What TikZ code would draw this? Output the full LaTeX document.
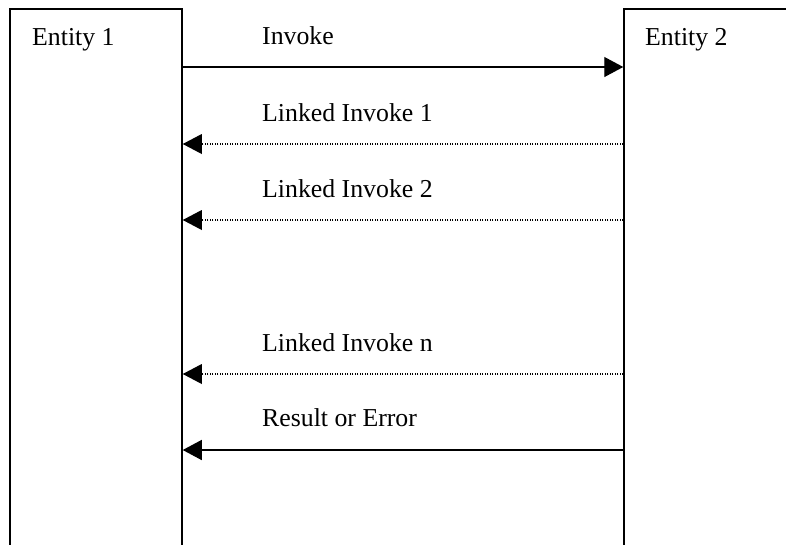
\documentclass[tikz,border=0pt]{standalone}
\usepackage{fontspec}
\setmainfont{Liberation Serif}
\usetikzlibrary{arrows.meta}
\begin{document}
\begin{tikzpicture}[x=1pt,y=-1pt,
  lbl/.style={anchor=base west,inner sep=0pt,font=\fontsize{25.8}{30}\selectfont},
  box/.style={line width=1.5pt},
  msg/.style={line width=1.3pt,-{Triangle[length=19pt,width=20pt]}},
  dmsg/.style={line width=1.2pt,dash pattern=on 1.2pt off 1.3pt,-{Triangle[length=19pt,width=20pt,line width=0pt]}}]
\useasboundingbox (0,0) rectangle (786,544);
\begin{scope}
\clip (0,0) rectangle (786,544);
\draw[box] (10,550) -- (10,9) -- (182,9) -- (182,550);
\draw[box] (624,550) -- (624,9) -- (790,9);
\end{scope}
\node[lbl] (e1) at (32,45) {Entity 1};
\node[lbl] (e2) at (645,45) {Entity 2};
\node[lbl] (t1) at (262,44) {Invoke};
\node[lbl] (t2) at (262,121) {Linked Invoke 1};
\node[lbl] (t3) at (262,197) {Linked Invoke 2};
\node[lbl] (t4) at (262,351.5) {Linked Invoke n};
\node[lbl] (t5) at (262,426.5) {Result or Error};
\coordinate (a1) at (182.75,67);  \coordinate (b1) at (623.25,67);
\coordinate (a2) at (182.75,144); \coordinate (b2) at (623.25,144);
\coordinate (a3) at (182.75,220); \coordinate (b3) at (623.25,220);
\coordinate (a4) at (182.75,374); \coordinate (b4) at (623.25,374);
\coordinate (a5) at (182.75,450); \coordinate (b5) at (623.25,450);
\draw[msg] (a1) -- (b1);
\draw[dmsg] (b2) -- (a2);
\draw[dmsg] (b3) -- (a3);
\draw[dmsg] (b4) -- (a4);
\draw[msg] (b5) -- (a5);
\end{tikzpicture}
\end{document}
